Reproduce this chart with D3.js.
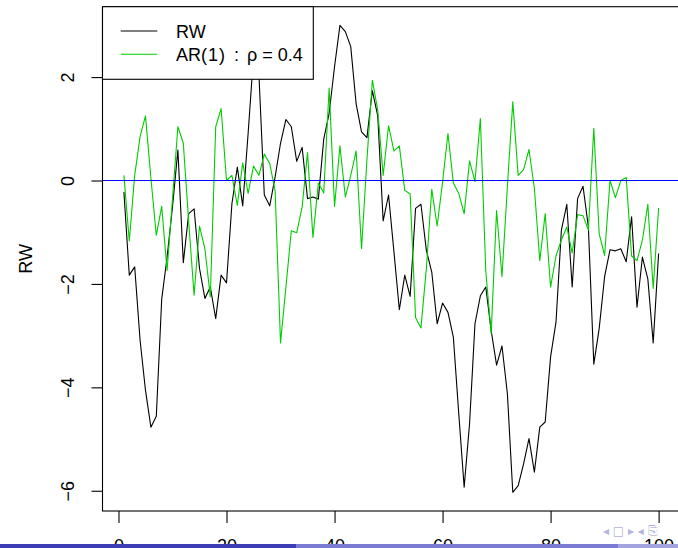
<!DOCTYPE html>
<html>
<head>
<meta charset="utf-8">
<script src="https://cdn.jsdelivr.net/npm/d3@7"></script>
<style>
  body { margin: 0; background: #fff; overflow: hidden; }
  svg { display: block; font-family: "Liberation Sans", Arial, sans-serif; }
</style>
</head>
<body>
<div class="container"></div>
<script>
// random walk, t = 1..100
var rw = [
  -0.22, -1.83, -1.67, -3.09, -4.06, -4.77, -4.56, -2.30, -1.48, -0.51,
   0.59, -1.59, -0.64, -0.55, -1.70, -2.28, -2.06, -2.67, -1.83, -1.98,
  -0.45,  0.26, -0.49,  0.91,  2.40,  2.05, -0.28, -0.49,  0.07,  0.72,
   1.18,  1.04,  0.37,  0.64, -0.35, -0.32, -0.36,  0.80,  1.30,  2.20,
   3.00,  2.88,  2.59,  1.48,  0.94,  0.83,  1.74,  1.25, -0.78, -0.28,
  -1.38, -2.50, -1.83, -2.24, -0.54, -0.46, -1.35, -1.77, -2.77, -2.37,
  -2.55, -3.03, -4.51, -5.93, -4.70, -2.77, -2.23, -2.06, -2.90, -3.57,
  -3.20, -4.12, -6.03, -5.90, -5.48, -4.99, -5.64, -4.77, -4.67, -3.41,
  -2.74, -0.96, -0.46, -2.06, -0.35, -0.11, -0.90, -3.55, -2.86, -1.86,
  -1.34, -1.36, -1.32, -1.57, -0.70, -2.45, -1.48, -1.90, -3.14, -1.41
];

// AR(1) with rho = 0.4
var ar = [
   0.10, -1.17,  0.10,  0.85,  1.25,  0.05, -1.06, -0.50, -1.74, -0.35,
   1.04,  0.72, -0.80, -2.22, -0.88, -1.32, -2.25,  1.04,  1.39,  0.00,
   0.10, -0.48,  0.34, -0.25,  0.28,  0.10,  0.51,  0.33, -0.20, -3.14,
  -2.06, -0.97, -1.01, -0.51,  0.54, -1.10, -0.05, -0.24,  1.79, -0.50,
   0.67, -0.32,  0.10,  0.57, -1.32,  0.40,  1.94,  1.36,  0.10,  1.06,
   0.57,  0.67, -0.19, -0.26, -2.65, -2.85, -1.70, -0.17, -0.88, -0.03,
   0.91, -0.05, -0.25, -0.64,  0.38, -0.02,  1.20, -1.75, -2.96, -0.58,
  -1.86, -0.12,  1.52,  0.10,  0.21,  0.60, -0.15, -1.55, -0.64, -2.06,
  -1.46, -1.15, -0.90, -1.40, -0.66, -0.68, -0.96,  1.01, -1.03, -1.45,
   0.00, -0.33,  0.00,  0.06, -1.46, -1.55, -1.15, -0.46, -2.09, -0.53
];

var xTicks = [0, 20, 40, 60, 80, 100];
var yTicks = [-6, -4, -2, 0, 2];
var hLine = 0;

var svgWidth = 678, svgHeight = 548;
// plot box (R draws past the right edge of the slide crop)
var plot = { left: 102.5, right: 680, top: 6.7, bottom: 511 };

var t = d3.range(1, rw.length + 1);

// R pads the data range by 4% on each side
function pad(ext) {
  var d = (ext[1] - ext[0]) * 0.04;
  return [ext[0] - d, ext[1] + d];
}

var x = d3.scaleLinear().domain(pad(d3.extent(t))).range([plot.left, plot.right]);
var y = d3.scaleLinear().domain(pad(d3.extent(rw))).range([plot.bottom, plot.top]);

var svg = d3.select(".container")
  .append("svg")
  .attr("width", svgWidth)
  .attr("height", svgHeight);

svg.append("clipPath")
  .attr("id", "plotClip")
  .append("rect")
  .attr("x", plot.left)
  .attr("y", plot.top)
  .attr("width", plot.right - plot.left)
  .attr("height", plot.bottom - plot.top);

var plotArea = svg.append("g").attr("clip-path", "url(#plotClip)");

var line = d3.line()
  .x(function(d, i) { return x(t[i]); })
  .y(function(d) { return y(d); });

plotArea.append("path")
  .datum(rw)
  .attr("d", line)
  .attr("fill", "none")
  .attr("stroke", "#000")
  .attr("stroke-width", 1.1)
  .attr("stroke-linejoin", "round");

plotArea.append("path")
  .datum(ar)
  .attr("d", line)
  .attr("fill", "none")
  .attr("stroke", "#00CD00")
  .attr("stroke-width", 1.1)
  .attr("stroke-linejoin", "round");

// abline(h = 0, col = "blue")
plotArea.append("line")
  .attr("x1", plot.left)
  .attr("x2", plot.right)
  .attr("y1", y(hLine))
  .attr("y2", y(hLine))
  .attr("stroke", "#0000FF")
  .attr("stroke-width", 1.1);

// box
svg.append("rect")
  .attr("x", plot.left)
  .attr("y", plot.top)
  .attr("width", plot.right - plot.left)
  .attr("height", plot.bottom - plot.top)
  .attr("fill", "none")
  .attr("stroke", "#000")
  .attr("stroke-width", 1.1);

// x axis
var xAxis = svg.append("g")
  .attr("transform", `translate(0, ${plot.bottom})`)
  .call(d3.axisBottom(x).tickValues(xTicks).tickSize(12).tickSizeOuter(0));
xAxis.select(".domain").remove();
xAxis.selectAll("line").attr("stroke", "#000").attr("stroke-width", 1.1);
xAxis.selectAll("text")
  .attr("y", 41)
  .attr("dy", 0)
  .attr("fill", "#000")
  .style("font-size", "18px")
  .style("font-family", "'Liberation Sans', Arial, sans-serif");

// y axis, labels parallel to the axis
var yAxis = svg.append("g")
  .attr("transform", `translate(${plot.left}, 0)`)
  .call(d3.axisLeft(y).tickValues(yTicks).tickSize(11).tickSizeOuter(0));
yAxis.select(".domain").remove();
yAxis.selectAll("line").attr("stroke", "#000").attr("stroke-width", 1.1);
yAxis.selectAll("text")
  .attr("x", 0)
  .attr("dy", 0)
  .attr("transform", "translate(-29, 0) rotate(-90)")
  .attr("text-anchor", "middle")
  .attr("fill", "#000")
  .style("font-size", "18px")
  .style("font-family", "'Liberation Sans', Arial, sans-serif");

// y label
svg.append("text")
  .attr("transform", `translate(31.5, ${(plot.top + plot.bottom) / 2}) rotate(-90)`)
  .attr("text-anchor", "middle")
  .style("font-size", "18px")
  .text("RW");

// legend
var legend = svg.append("g");
legend.append("rect")
  .attr("x", plot.left)
  .attr("y", plot.top)
  .attr("width", 210.8)
  .attr("height", 72.6)
  .attr("fill", "#fff")
  .attr("stroke", "#000")
  .attr("stroke-width", 1.1);

var legendItems = [
  { color: "#000", y: 31 },
  { color: "#00CD00", y: 54.3 }
];
legend.selectAll(".key")
  .data(legendItems)
  .enter()
  .append("line")
  .attr("x1", 120.7)
  .attr("x2", 157.3)
  .attr("y1", d => d.y)
  .attr("y2", d => d.y)
  .attr("stroke", d => d.color)
  .attr("stroke-width", 1.1);

legend.append("text")
  .attr("x", 176)
  .attr("y", 37.5)
  .style("font-size", "18px")
  .text("RW");

var arLabel = legend.append("text")
  .attr("x", 176)
  .attr("y", 60.8)
  .style("font-size", "18px");
arLabel.append("tspan").text("AR(");
arLabel.append("tspan").attr("dx", 1).text("1");
arLabel.append("tspan").attr("dx", 1).text(")");
arLabel.append("tspan").attr("dx", 9).text(":");
arLabel.append("tspan").attr("dx", 8).text("ρ");
arLabel.append("tspan").attr("dx", 5).text("=");
arLabel.append("tspan").attr("dx", 5).text("0.4");

// beamer footline
var footY = 544;
svg.append("rect").attr("x", 0).attr("y", footY).attr("width", 296).attr("height", 4).attr("fill", "#3d3db5");
svg.append("rect").attr("x", 296).attr("y", footY).attr("width", 322).attr("height", 4).attr("fill", "#7b7bd3");
svg.append("rect").attr("x", 618).attr("y", footY).attr("width", 60).attr("height", 4).attr("fill", "#a3a3e0");

// navigation symbols
svg.append("text")
  .attr("x", 603)
  .attr("y", 535)
  .attr("fill", "#b4b4dc")
  .style("font-family", "'DejaVu Sans', sans-serif")
  .style("font-size", "12px")
  .text("◂ □ ▸ ◂ ⎘");
</script>
</body>
</html>
